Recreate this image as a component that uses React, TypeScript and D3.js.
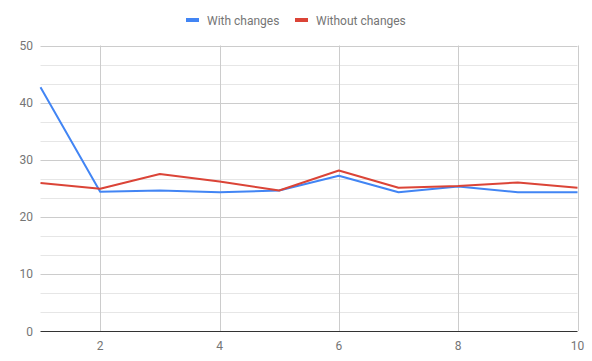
import React from "react";
import * as d3 from "d3";

const xs = [1, 2, 3, 4, 5, 6, 7, 8, 9, 10];
const withChanges = [42.7, 24.4, 24.6, 24.3, 24.6, 27.2, 24.3, 25.3, 24.3, 24.3];
const withoutChanges = [25.9, 24.9, 27.5, 26.2, 24.6, 28.1, 25.1, 25.4, 26.0, 25.1];
const yTicks = [0, 10, 20, 30, 40, 50];
const xTicks = [2, 4, 6, 8, 10];
const seriesNames = ["With changes", "Without changes"];
const colors = ["#4285F4", "#DB4437"];

export default function App() {
  const W = 592, H = 361;
  const left = 40.5, right = 577.5, top = 45.5, bottom = 331;
  const x = d3.scaleLinear().domain([1, 10]).range([left, right]);
  const y = d3.scaleLinear().domain([0, 50]).range([bottom, top]);
  const line = d3.line<number>().x((_, i) => x(xs[i])).y((d) => y(d));
  const series = [withChanges, withoutChanges];
  const font = "Roboto, Arial, sans-serif";
  const legendX = [186, 295];
  const minor: number[] = [];
  for (let i = 0; i < yTicks.length - 1; i++) {
    const a = yTicks[i], b = yTicks[i + 1];
    minor.push(a + (b - a) / 3, a + (2 * (b - a)) / 3);
  }
  const py = (v: number) => Math.round(y(v)) + 0.5;
  return (
    <svg width={W} height={H} style={{ position: "absolute", left: 0, top: 0 }} fontFamily={font}>
      <rect width={W} height={H} fill="#fff" />
      {minor.map((t, i) => (
        <line key={"m" + i} x1={left} x2={right} y1={py(t)} y2={py(t)} stroke="#e6e6e6" />
      ))}
      {yTicks.filter((t) => t !== 0).map((t) => (
        <line key={"g" + t} x1={left} x2={right} y1={py(t)} y2={py(t)} stroke="#cccccc" />
      ))}
      {xTicks.map((t) => (
        <line key={"v" + t} x1={Math.round(x(t)) + 0.5} x2={Math.round(x(t)) + 0.5} y1={top} y2={bottom} stroke="#cccccc" />
      ))}
      {yTicks.map((t) => (
        <text key={"yl" + t} x={33} y={y(t) + 4.5} textAnchor="end" fontSize={12} fill="#757575">
          {t}
        </text>
      ))}
      {xTicks.map((t) => (
        <text key={"xl" + t} x={x(t)} y={350} textAnchor="middle" fontSize={12} fill="#757575">
          {t}
        </text>
      ))}
      {series.map((s, i) => (
        <path key={"s" + i} d={line(s) || ""} fill="none" stroke={colors[i]} strokeWidth={2} strokeLinejoin="round" />
      ))}
      <line x1={left} x2={right} y1={py(0)} y2={py(0)} stroke="#333" strokeWidth={1} />
      {seriesNames.map((n, i) => (
        <g key={"lg" + i}>
          <rect x={legendX[i]} y={18} width={13} height={4} fill={colors[i]} />
          <text x={legendX[i] + 21} y={24.5} fontSize={12} fill="#757575">
            {n}
          </text>
        </g>
      ))}
    </svg>
  );
}
